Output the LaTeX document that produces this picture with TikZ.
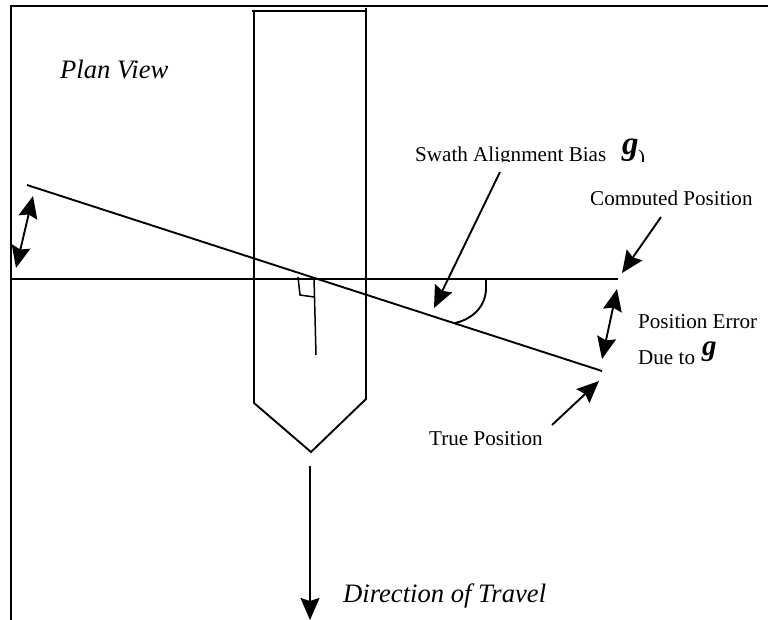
\documentclass[tikz,border=0pt]{standalone}
\usepackage{fontspec}
\setmainfont{Liberation Serif}
\usetikzlibrary{arrows.meta}
\usetikzlibrary{positioning}
\tikzset{>={Stealth[length=22pt,width=19pt,inset=3pt]}}
\tikzset{
  a_line/.style = {line width=1.9pt},
  a_thin/.style = {line width=1.5pt},
  a_arrow/.style = {a_line, ->},
  a_both/.style = {a_line, <->},
  a_label/.style = {align=left, inner sep=0pt, anchor=base west, font=\fontsize{21.1}{24}\selectfont},
  a_italic/.style = {a_label, font=\fontsize{26.6}{30}\selectfont\itshape},
  a_sym/.style = {a_label, font=\fontsize{29}{30}\selectfont\bfseries\itshape},
  a_symtop/.style = {a_label, font=\fontsize{33}{34}\selectfont\bfseries\itshape}
}

\begin{document}
\begin{tikzpicture}[x=1pt,y=-1pt]

    \useasboundingbox (0,0) rectangle (768,620);

    % frame
    \coordinate (frame_a) at (11,620);
    \coordinate (frame_b) at (11,6);
    \coordinate (frame_c) at (768,6);
    \draw [a_line] (frame_a) -- (frame_b) -- (frame_c);

    % vehicle
    \coordinate (veh_a) at (252,11);
    \coordinate (veh_b) at (366,11);
    \coordinate (veh_c) at (366,399);
    \coordinate (veh_d) at (311,452);
    \coordinate (veh_e) at (254,403);
    \coordinate (veh_f) at (254,11);
    \coordinate (veh_g) at (366,8);
    \draw [a_line] (veh_a) -- (veh_b);
    \draw [a_line] (veh_g) -- (veh_c) -- (veh_d) -- (veh_e) -- (veh_f);

    % position lines
    \coordinate (left_end) at (11,279);
    \coordinate (computed) at (618,279);
    \coordinate (tilt_start) at (27,185);
    \coordinate (true_pos) at (602,371);
    \draw [a_line] (left_end) -- (computed);
    \draw [a_line] (tilt_start) -- (true_pos);

    % right angle mark
    \coordinate (axis_a) at (314,278);
    \coordinate (axis_b) at (316,355);
    \coordinate (mark_a) at (298,277);
    \coordinate (mark_b) at (300,295);
    \coordinate (mark_c) at (314,297);
    \draw [a_thin] (axis_a) -- (axis_b);
    \draw [a_thin] (mark_a) -- (mark_b) -- (mark_c);

    % angle
    \coordinate (arc_a) at (486,279);
    \coordinate (arc_b) at (455,323);
    \draw [a_line] (arc_a) -- (486,288) .. controls (486,306) and (473,319) .. (arc_b);

    % arrows
    \coordinate (tilt_a) at (33,196);
    \coordinate (tilt_b) at (16,268);
    \draw [a_both] (tilt_a) -- (tilt_b);

    \coordinate (err_a) at (617,289);
    \coordinate (err_b) at (602,359);
    \draw [a_both] (err_a) -- (err_b);

    \coordinate (swath_from) at (500,172);
    \coordinate (swath_to) at (434,308);
    \draw [a_arrow] (swath_from) -- (swath_to);

    \coordinate (comp_from) at (661,217);
    \coordinate (comp_to) at (622,273);
    \draw [a_arrow] (comp_from) -- (comp_to);

    \coordinate (true_from) at (552,425);
    \coordinate (true_to) at (599,381);
    \draw [a_arrow] (true_from) -- (true_to);

    \coordinate (dir_from) at (310,466);
    \coordinate (dir_to) at (310,620);
    \draw [a_arrow] (dir_from) -- (dir_to);

    % labels
    \node [a_italic] (plan) at (60,79) {Plan View};
    \node [a_italic] (dir) at (343,602) {Direction of Travel};
    \node [a_label] (truelbl) at (429,445) {True Position};
    \node [a_label] (errlbl) at (638,328) {Position Error};
    \begin{scope}
      \clip (630,345) rectangle (697,375);
      \node [a_label] (duelbl) at (638,364) {Due to};
    \end{scope}
    \node [a_sym] (duesym) at (702,355) {g};

    % labels cut off at the bottom
    \begin{scope}
      \clip (400,130) rectangle (650,161.5);
      \node [a_label] (swathlbl) at (415,162) {Swath Alignment Bias};
      \node [a_symtop] (swathsym) at (622,155) {g};
      \node [a_label] (swathend) at (638,165) {)};
    \end{scope}
    \begin{scope}
      \clip (580,180) rectangle (768,205);
      \node [a_label] (complbl) at (590,206) {Computed Position};
    \end{scope}

\end{tikzpicture}
\end{document}
